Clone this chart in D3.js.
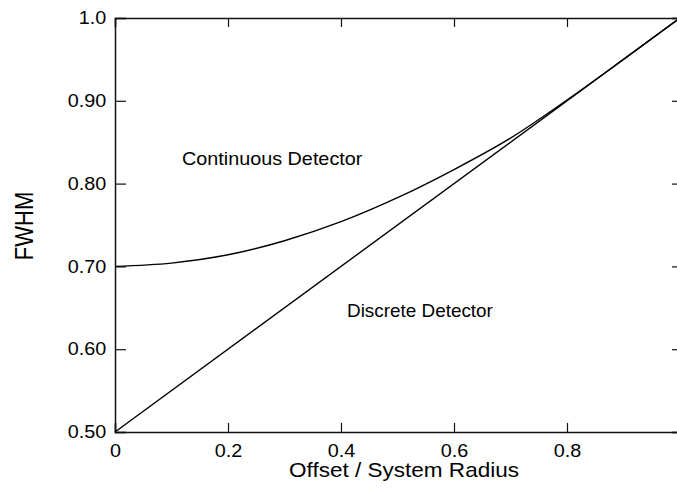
<!DOCTYPE html>
<html>
<head>
<meta charset="utf-8">
<script src="https://cdn.jsdelivr.net/npm/d3@7"></script>
<style>
  html, body { margin: 0; padding: 0; background: #fff; }
  svg { display: block; font-family: "Liberation Sans", Arial, Helvetica, sans-serif; }
</style>
</head>
<body>
<svg id="chart" width="677" height="490"></svg>
<script>
// Offset as a fraction of the system radius
const offsets = [0, 0.1, 0.2, 0.3, 0.4, 0.5, 0.6, 0.7, 0.8, 0.9, 1.0];
// FWHM for the continuous detector
const continuousFwhm = [0.700, 0.704, 0.714, 0.731, 0.754, 0.783, 0.817, 0.855, 0.901, 0.950, 1.0];
// FWHM for the discrete detector (straight line)
const discreteOffsets = [0, 1.0];
const discreteFwhm = [0.5, 1.0];

const xTicks = [0, 0.2, 0.4, 0.6, 0.8];
const xTickLabels = ["0", "0.2", "0.4", "0.6", "0.8"];
const yTicks = [0.5, 0.6, 0.7, 0.8, 0.9, 1.0];
const yTickLabels = ["0.50", "0.60", "0.70", "0.80", "0.90", "1.0"];

const svg = d3.select("#chart");
const plotLeft = 115, plotRight = 680, plotTop = 18, plotBottom = 432;

const x = d3.scaleLinear().domain([0, 1]).range([plotLeft, plotRight]);
const y = d3.scaleLinear().domain([0.5, 1.0]).range([plotBottom, plotTop]);

const stretch = "scale(1.1,1)";

// Axes with inward-pointing ticks on all four sides
const gBottom = svg.append("g").attr("transform", `translate(0,${plotBottom})`)
  .call(d3.axisBottom(x).tickValues(xTicks).tickSize(-9).tickPadding(12)
    .tickFormat((d, i) => xTickLabels[i]));
const gTop = svg.append("g").attr("transform", `translate(0,${plotTop})`)
  .call(d3.axisTop(x).tickValues(xTicks).tickSize(-9).tickFormat(""));
const gLeft = svg.append("g").attr("transform", `translate(${plotLeft},0)`)
  .call(d3.axisLeft(y).tickValues(yTicks).tickSize(-11).tickPadding(8)
    .tickFormat((d, i) => yTickLabels[i]));
const gRight = svg.append("g").attr("transform", `translate(${plotRight},0)`)
  .call(d3.axisRight(y).tickValues(yTicks).tickSize(-8).tickFormat(""));

[gBottom, gTop, gLeft, gRight].forEach(g => {
  g.select(".domain").attr("stroke", "#111").attr("stroke-width", 1.5);
  g.selectAll(".tick line").attr("stroke", "#111").attr("stroke-width", 1.2);
  g.selectAll(".tick text")
    .attr("fill", "#000")
    .style("font-size", "18px")
    .style("font-family", "'Liberation Sans', Arial, sans-serif");
});
gBottom.selectAll(".tick text").attr("transform", stretch);
gLeft.selectAll(".tick text").attr("transform", stretch);

// Curves
const line = d3.line()
  .x(d => x(d[0]))
  .y(d => y(d[1]))
  .curve(d3.curveMonotoneX);

svg.append("path")
  .datum(offsets.map((o, i) => [o, continuousFwhm[i]]))
  .attr("d", line)
  .attr("fill", "none")
  .attr("stroke", "#000")
  .attr("stroke-width", 1.4);

svg.append("path")
  .datum(discreteOffsets.map((o, i) => [o, discreteFwhm[i]]))
  .attr("d", d3.line().x(d => x(d[0])).y(d => y(d[1])))
  .attr("fill", "none")
  .attr("stroke", "#000")
  .attr("stroke-width", 1.4);

// Curve labels
svg.append("text")
  .attr("transform", `translate(182,165) ${stretch}`)
  .style("font-size", "18px")
  .attr("fill", "#000")
  .text("Continuous Detector");

svg.append("text")
  .attr("transform", "translate(347,317) scale(1.08,1)")
  .style("font-size", "17.5px")
  .attr("fill", "#000")
  .text("Discrete Detector");

// Axis titles
svg.append("text")
  .attr("transform", "translate(404,477) scale(1.1,1)")
  .attr("text-anchor", "middle")
  .style("font-size", "20.5px")
  .attr("fill", "#000")
  .text("Offset / System Radius");

svg.append("text")
  .attr("transform", "translate(33,226) scale(1.2,1) rotate(-90)")
  .attr("text-anchor", "middle")
  .style("font-size", "22px")
  .attr("fill", "#000")
  .text("FWHM");
</script>
</body>
</html>
